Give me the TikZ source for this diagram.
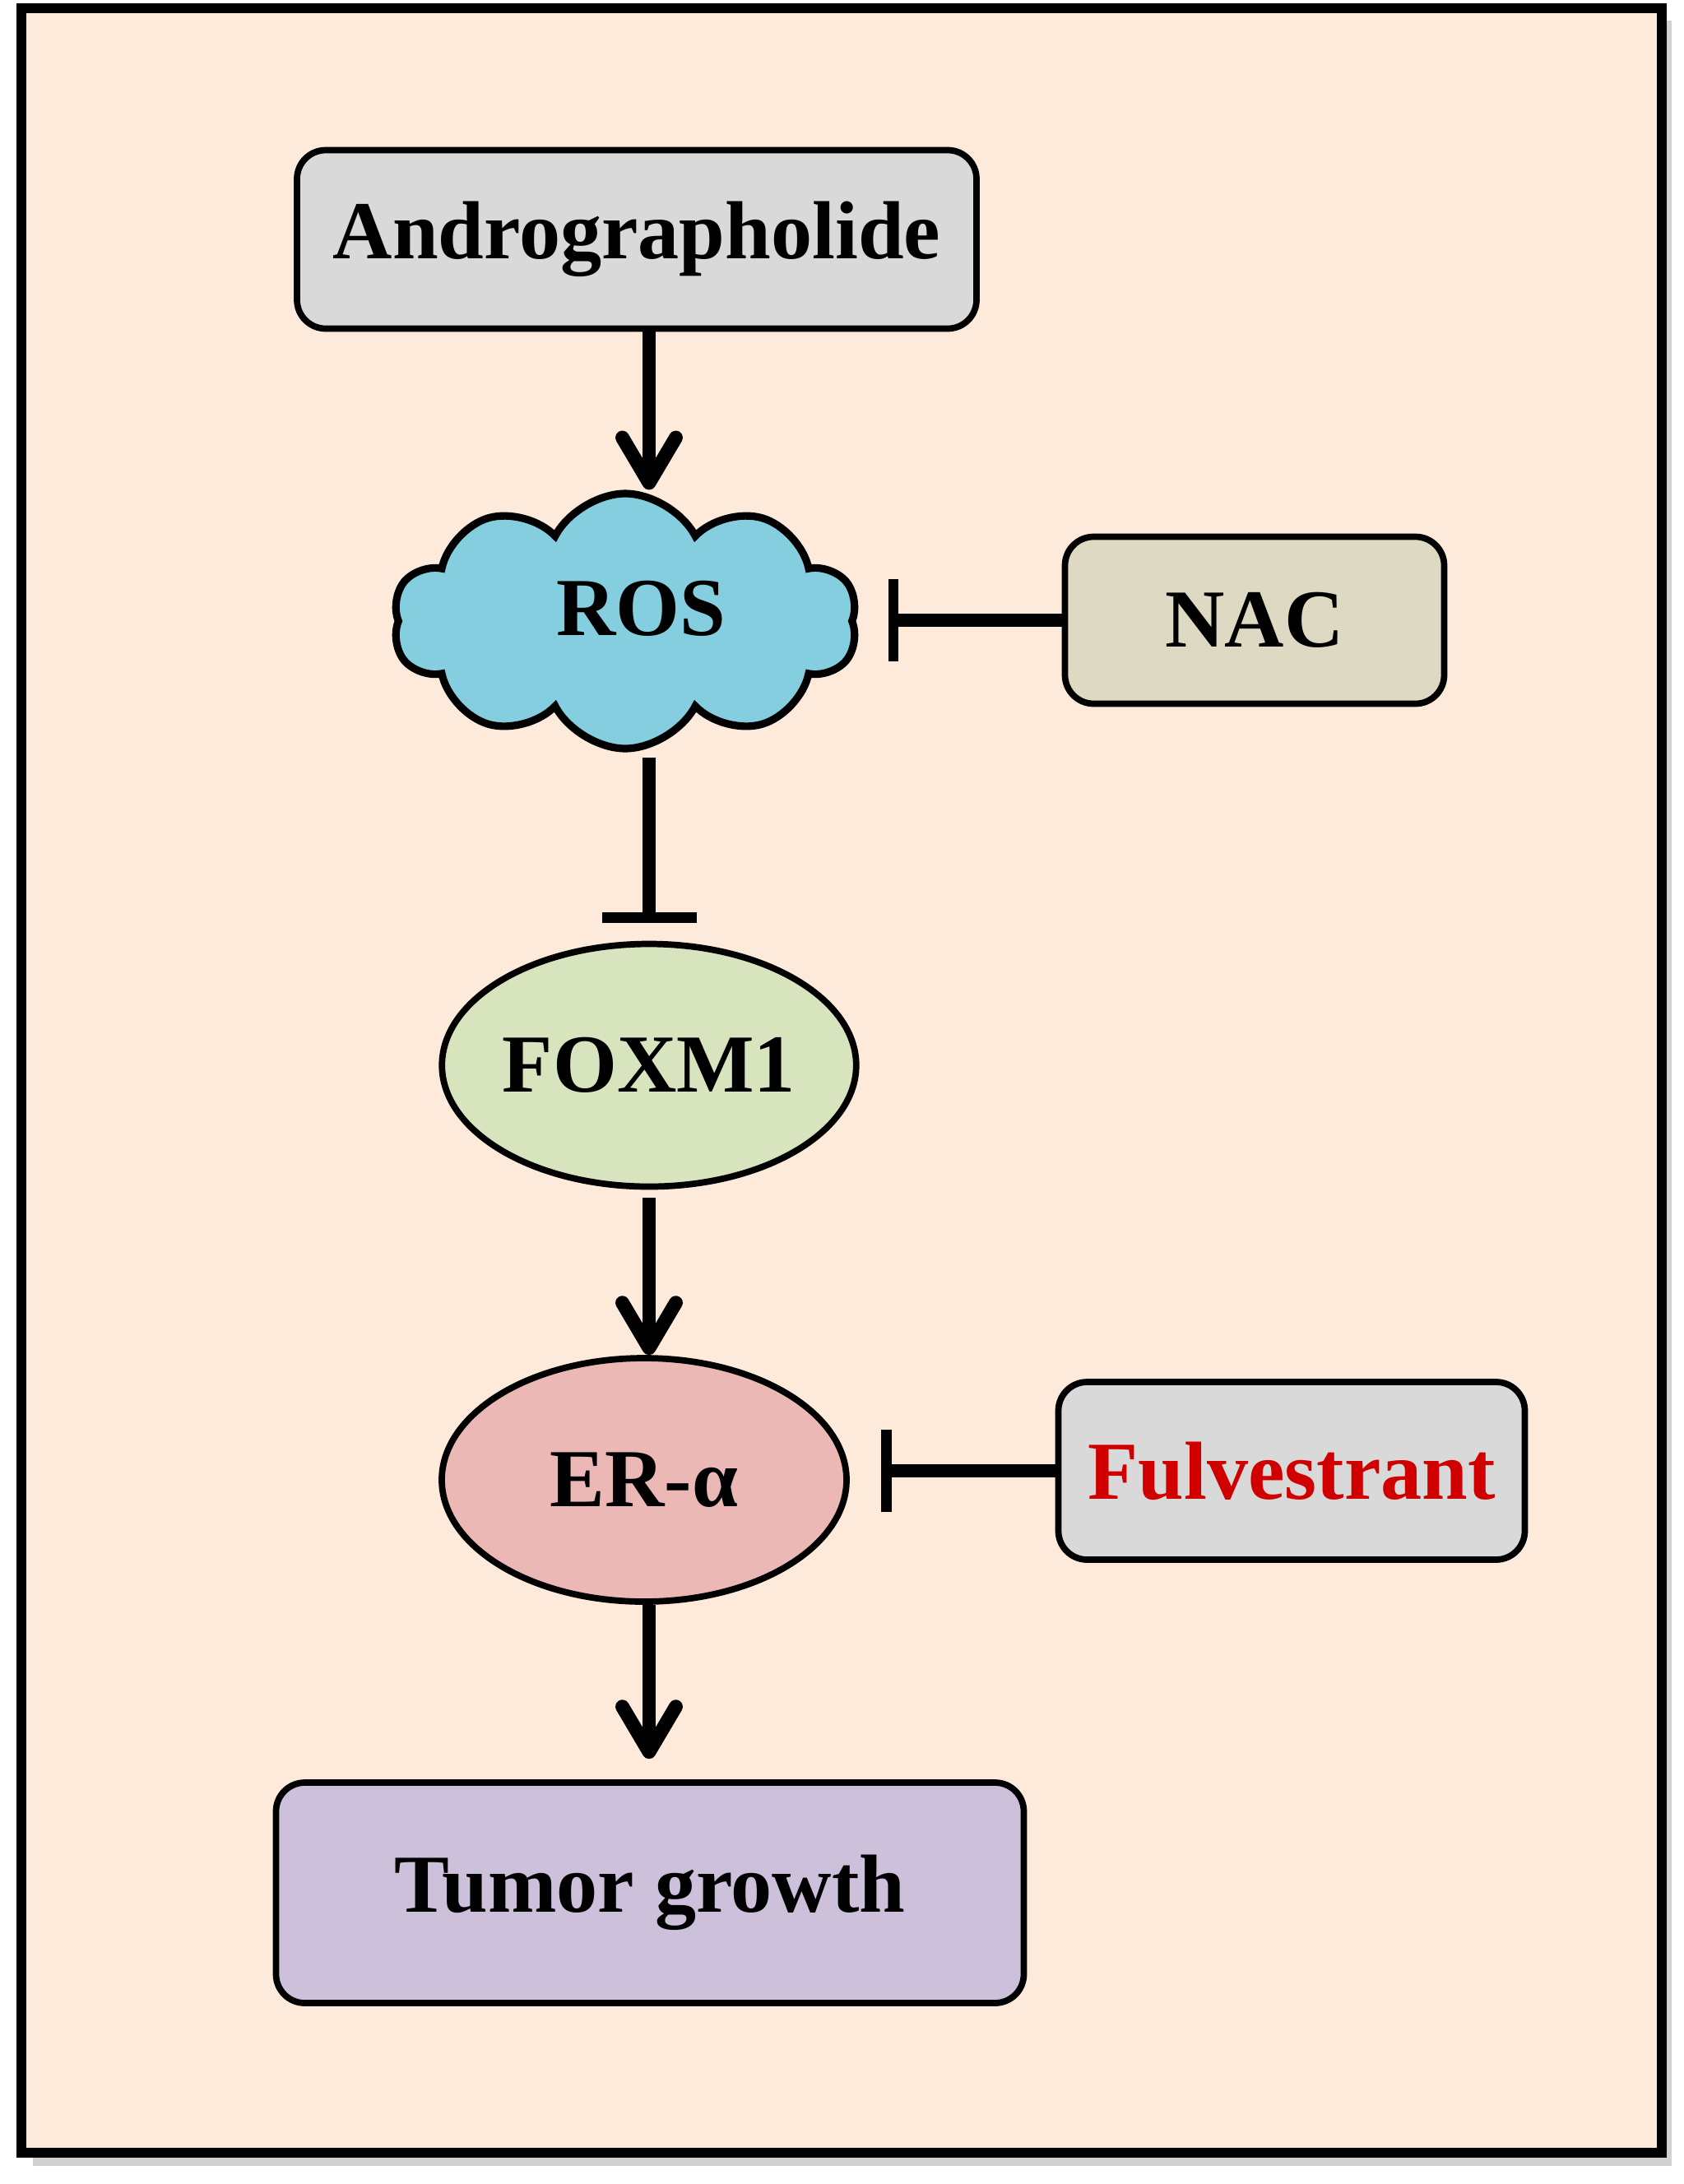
\documentclass[tikz,border=0pt]{standalone}
\usepackage{fontspec}
\setmainfont{Liberation Serif}
\usetikzlibrary{shapes.symbols,shapes.geometric,arrows.meta}

\definecolor{peach}{HTML}{FDEADA}
\definecolor{boxgray}{HTML}{D9D9D9}
\definecolor{cloudblue}{HTML}{84CEE0}
\definecolor{nacfill}{HTML}{DDD9C3}
\definecolor{foxfill}{HTML}{D7E4BD}
\definecolor{erfill}{HTML}{EBB8B6}
\definecolor{tumorfill}{HTML}{CCC0DA}
\definecolor{drugred}{HTML}{D10000}

\begin{document}
\begin{tikzpicture}[
  label/.style={font=\bfseries\fontsize{28.5}{34}\selectfont, inner sep=0pt},
  box/.style={label, draw=black, line width=2.2pt, rounded corners=0.35cm},
  oval/.style={label, ellipse, draw=black, line width=2.2pt},
  act/.style={line width=4.8pt, -{Straight Barb[length=0.55cm,width=0.65cm,round]}},
  inhib/.style={line width=4.8pt, -{Bar[width=1.0cm,line width=3.6pt]}}
  ]
  \useasboundingbox (0,0) rectangle (20.47,-26.55);
  % frame
  \fill [black!18] (0.40,-0.25) rectangle (20.32,-26.33);
  \fill [peach] (0.26,-0.10) rectangle (20.20,-26.17);
  \draw [black, line width=3.4pt] (0.26,-0.10) rectangle (20.20,-26.17);

  % nodes
  \node [box, fill=boxgray, minimum width=8.26cm, minimum height=2.17cm] (andro) at (7.74,-2.91) {Andrographolide};
  \node [cloud, cloud puffs=10, cloud puff arc=125, draw=black, line width=2.6pt, fill=cloudblue,
         minimum width=5.65cm, minimum height=3.1cm] (ros) at (7.60,-7.55) {};
  \node [label] (rostext) at (7.79,-7.40) {ROS};
  \node [box, fill=nacfill, minimum width=4.61cm, minimum height=2.03cm] (nac) at (15.25,-7.54) {NAC};
  \node [oval, fill=foxfill, minimum width=4.94cm, minimum height=2.95cm] (foxm) at (7.89,-12.95) {FOXM1};
  \node [oval, fill=erfill, minimum width=4.92cm, minimum height=2.96cm] (er) at (7.83,-17.99) {ER-α};
  \node [box, fill=boxgray, text=drugred, minimum width=5.67cm, minimum height=2.16cm] (ful) at (15.70,-17.88) {Fulvestrant};
  \node [box, fill=tumorfill, minimum width=9.09cm, minimum height=2.68cm] (tumor) at (7.90,-23.01) {Tumor growth};

  % connectors
  \draw [act] (andro.south -| foxm.north) -- (ros.north -| foxm.north);
  \draw [inhib, -{Bar[width=1.15cm,line width=3.6pt]}, shorten <=0.06cm, shorten >=0.22cm] (ros.south -| foxm.north) -- (foxm.north);
  \draw [inhib, shorten >=0.39cm] (nac.west) -- (nac.west -| ros.east);
  \draw [act, shorten <=0.1cm] (foxm.south) -- (er.north -| foxm.south);
  \draw [inhib, shorten >=0.38cm] (ful.west) -- (ful.west -| er.east);
  \draw [act, shorten >=0.25cm] (er.south -| foxm.south) -- (tumor.north -| foxm.south);
\end{tikzpicture}
\end{document}
